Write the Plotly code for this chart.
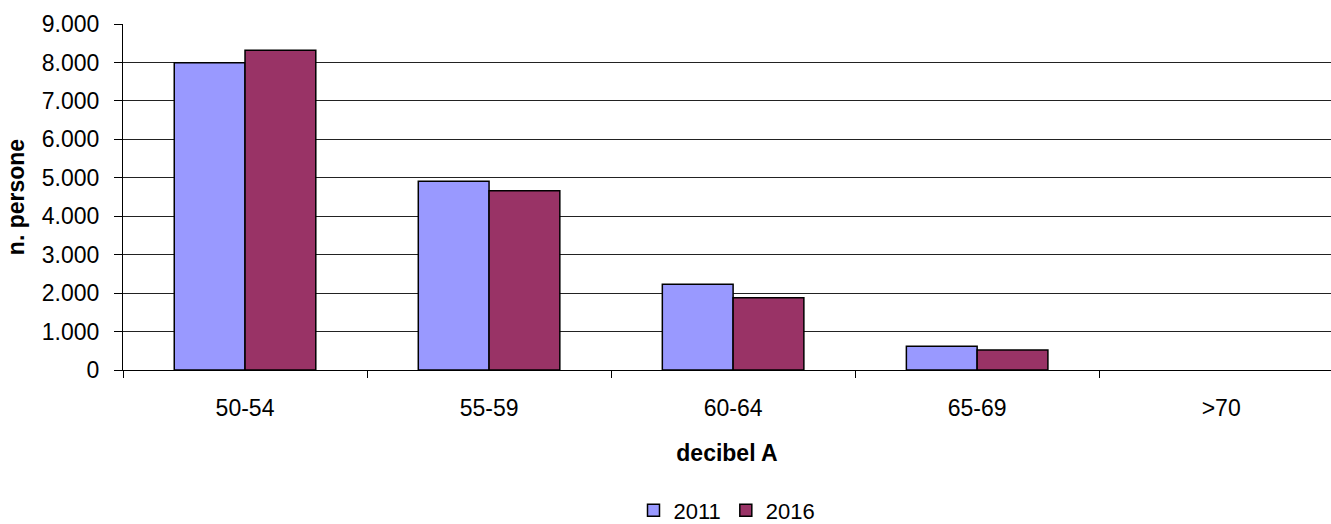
import plotly.graph_objects as go

categories = ["50-54", "55-59", "60-64", "65-69", ">70"]
persone_2011 = [7990, 4910, 2230, 615, 0]
persone_2016 = [8320, 4665, 1880, 520, 0]
y_ticks = [0, 1000, 2000, 3000, 4000, 5000, 6000, 7000, 8000, 9000]

font_family = "Liberation Sans, Arial, sans-serif"


def outline_widths(values):
    # empty categories get no outline, so nothing is drawn at zero
    return [1.5 if v > 0 else 0 for v in values]


fig = go.Figure()
fig.add_trace(go.Bar(
    name="2011", x=categories, y=persone_2011,
    marker=dict(color="#9999FF",
                line=dict(color="#000000", width=outline_widths(persone_2011))),
))
fig.add_trace(go.Bar(
    name="2016", x=categories, y=persone_2016,
    marker=dict(color="#993366",
                line=dict(color="#000000", width=outline_widths(persone_2016))),
))

fig.update_layout(
    width=1331, height=524,
    margin=dict(l=123, r=0, t=24, b=154, autoexpand=False),
    paper_bgcolor="white", plot_bgcolor="white",
    font=dict(family=font_family, size=23, color="#000000"),
    separators=",.",
    barmode="group", bargap=0.42, bargroupgap=0,
    showlegend=True,
    legend=dict(orientation="h", x=0.5, xanchor="center",
                yref="container", y=0.026, yanchor="middle",
                font=dict(size=22), itemwidth=30, tracegroupgap=0),
    xaxis=dict(
        range=[-0.5, 4.45], showline=True, linecolor="#000000", linewidth=1,
        ticks="outside", tickson="boundaries", ticklen=7, tickcolor="#000000",
        showgrid=False, ticklabelstandoff=17, automargin=False,
        title=dict(text="<b>decibel A</b>", standoff=25, font=dict(size=23)),
    ),
    yaxis=dict(
        range=[0, 9000], tickvals=y_ticks, tickformat=",d",
        showline=True, linecolor="#000000", linewidth=1,
        ticks="outside", ticklen=8, tickcolor="#000000",
        showgrid=True, gridcolor="#222222", gridwidth=1,
        zeroline=False, ticklabelstandoff=10, automargin=False,
        title=dict(text="<b>n. persone</b>", standoff=10, font=dict(size=23)),
    ),
)

fig.write_html("out.html")
